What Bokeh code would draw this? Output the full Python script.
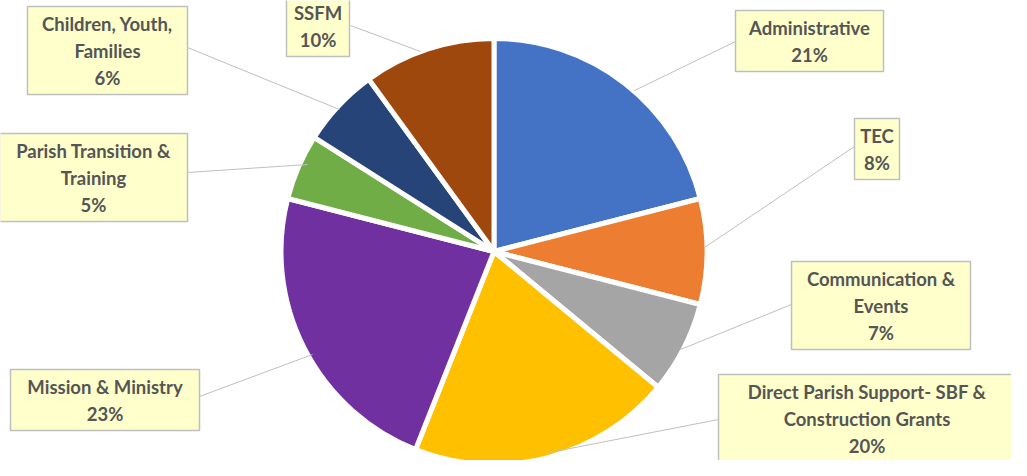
import math
from bokeh.plotting import figure
from bokeh.models import Range1d, ColumnDataSource
from bokeh.core.properties import value
from bokeh.embed import file_html
from bokeh.resources import INLINE

# ---------------- data ----------------
categories = ["Administrative", "TEC", "Communication & Events",
              "Direct Parish Support- SBF & Construction Grants",
              "Mission & Ministry", "Parish Transition & Training",
              "Children, Youth, Families", "SSFM"]
percent = [21, 8, 7, 20, 23, 5, 6, 10]
label_lines = [["Administrative"], ["TEC"], ["Communication &", "Events"],
               ["Direct Parish Support- SBF &", "Construction Grants"],
               ["Mission & Ministry"], ["Parish Transition &", "Training"],
               ["Children, Youth,", "Families"], ["SSFM"]]
colors = ["#4472C4", "#ED7D31", "#A5A5A5", "#FFC000", "#7030A0",
          "#70AD47", "#264478", "#9E480E"]

# ---------------- layout (reference pixel space, y downward) ----------------
W, H = 1027, 476
CX, CY, R = 501.5, 259, 213
# label box: center x, top y, width
box_layout = [(817, 18, 148), (884.5, 126, 45), (888.5, 269, 179),
              (874.5, 382, 297), (112.5, 377, 189), (101, 141, 188),
              (115, 14, 160), (325.5, 3, 63)]
# leader lines: (label end x, y), (pie end x, y)
leaders = [((743, 49), (642, 98)), ((862, 154), (712, 255)),
           ((799, 312), (688, 357)), ((726, 427), (557, 460)),
           ((207, 404), (320, 362)), ((195, 180), (315, 172)),
           ((195, 55), (347, 117)), ((358, 33), (428, 59))]
LINE_H = 27


def fy(y):
    return H - y


p = figure(width=1011, height=460, output_backend="svg", toolbar_location=None,
           x_range=Range1d(8, 1019), y_range=Range1d(8, 468),
           min_border=0, outline_line_color=None)
p.axis.visible = False
p.grid.visible = False
p.background_fill_color = "white"
p.border_fill_color = "white"

# wedges: start at 12 o'clock, clockwise
total = sum(percent)
starts, ends = [], []
cum = 0
for v in percent:
    a0 = math.pi / 2 - 2 * math.pi * (cum + v) / total
    a1 = math.pi / 2 - 2 * math.pi * cum / total
    starts.append(a0)
    ends.append(a1)
    cum += v

src = ColumnDataSource(dict(x=[CX] * len(percent), y=[fy(CY)] * len(percent),
                            start=starts, end=ends, color=colors, cat=categories))
p.wedge(x="x", y="y", radius=R, start_angle="start", end_angle="end",
        fill_color="color", line_color="white", line_width=5, source=src)

# leader lines
for (a, b) in leaders:
    p.line([a[0], b[0]], [fy(a[1]), fy(b[1])], line_color="#BFBFBF", line_width=1)

# label boxes and text
tx, ty, tt = [], [], []
qx0, qx1, qy0, qy1 = [], [], [], []
for lines, v, (bx, btop, bw) in zip(label_lines, percent, box_layout):
    all_lines = lines + [f"{v}%"]
    bh = LINE_H * len(all_lines) + 7
    qx0.append(bx - bw / 2)
    qx1.append(bx + bw / 2)
    qy0.append(fy(btop + bh))
    qy1.append(fy(btop))
    for i, t in enumerate(all_lines):
        tx.append(bx)
        ty.append(fy(btop + 17 + i * LINE_H))
        tt.append(t)

p.quad(left=qx0, right=qx1, bottom=qy0, top=qy1, fill_color="#FFFFCC",
       line_color="#BFBFBF", line_width=1.5)
p.text(x=tx, y=ty, text=tt, text_align="center", text_baseline="middle",
       text_font=value("Lato"), text_font_style="bold", text_font_size="18.5px",
       text_color="#555555")

open("out.html", "w").write(file_html(p, INLINE))
